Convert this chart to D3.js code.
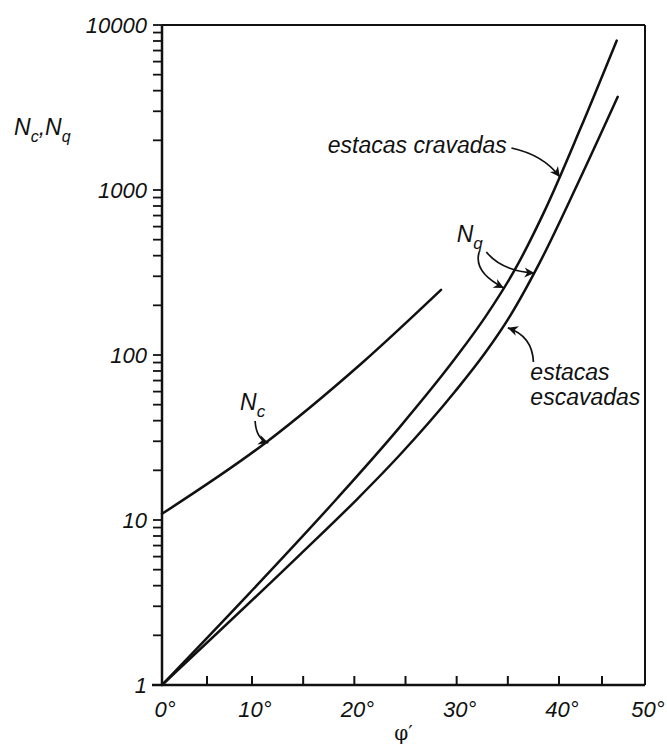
<!DOCTYPE html>
<html>
<head>
<meta charset="utf-8">
<script src="https://cdn.jsdelivr.net/npm/d3@7"></script>
<style>
  body { margin: 0; background: #fff; }
  svg text { font-family: "Liberation Sans", Arial, sans-serif; font-style: italic; fill: #111; }
</style>
</head>
<body>
<svg id="chart" width="667" height="746"></svg>
<script>
// Bearing capacity factors for piles versus friction angle φ' (degrees)
const phiNc = [0, 11.27, 20.72, 28.47];
const valuesNc = [10.9, 29.2, 89.1, 248];

// Nq – driven piles (estacas cravadas)
const phiDriven = [0, 9.78, 18.31, 24.46, 29.84, 32.77, 35.7, 38.63, 42.44, 46.71];
const valuesDriven = [1, 3.63, 13.5, 36.7, 95.1, 169, 330, 755, 2323, 8043];

// Nq – bored piles (estacas escavadas)
const phiBored = [0, 14.69, 20.26, 24.46, 29.84, 32.77, 35.21, 38.14, 42.09, 46.83];
const valuesBored = [1, 6.17, 13.35, 24.85, 60.1, 102.8, 172.1, 365.6, 1068, 3671];

// Axis ticks
const xTickLabels = [0, 10, 20, 30, 40, 50];
const xTickMarks = [5, 10, 15, 20, 25, 30, 35, 40, 45];
const yTickLabels = [1, 10, 100, 1000, 10000];

// Callouts: text anchored in data units (φ', N)
const textNotes = [
  { lines: ["estacas cravadas"], at: [34.9, 1675], anchor: "end" },
  { lines: ["estacas", "escavadas"], at: [37.2, 70.5], anchor: "start" }
];
const factorLabels = [
  { base: "N", sub: "c", at: [8.67, 46.4] },
  { base: "N", sub: "q", at: [30.0, 484] }
];
// Curved leader arrows: start, control point, tip
const leaders = [
  [[10.3, 39.8], [10.4, 31], [11.6, 29.3]],
  [[35.35, 1797], [38.5, 1630], [40.1, 1199]],
  [[32.2, 421], [31.6, 318], [34.6, 255]],
  [[32.9, 421], [34.4, 323], [37.6, 314]],
  [[37.5, 90.7], [37.4, 130], [35.0, 146]]
];

const svg = d3.select("#chart");
const plotLeft = 162, plotRight = 645, plotTop = 25, plotBottom = 685;

// The printed φ' axis is slightly stretched in its middle span
const x = d3.scaleLinear()
  .domain([0, 10, 40, 50])
  .range([plotLeft, 252, 559, plotRight]);
const y = d3.scaleLog()
  .domain([1, 10000])
  .range([plotBottom, plotTop]);

const ink = "#111";

// arrow head
svg.append("defs").append("marker")
  .attr("id", "head")
  .attr("viewBox", "-11 -6 13 12")
  .attr("refX", 0).attr("refY", 0)
  .attr("markerWidth", 13).attr("markerHeight", 12)
  .attr("markerUnits", "userSpaceOnUse")
  .attr("orient", "auto")
  .append("path")
  .attr("d", "M-10,-5 L0,0 L-10,5 L-7,0 Z")
  .attr("fill", ink);

// frame
svg.append("line").attr("x1", x(0)).attr("x2", x(50)).attr("y1", y(10000)).attr("y2", y(10000))
  .attr("stroke", ink).attr("stroke-width", 2);
svg.append("line").attr("x1", x(50)).attr("x2", x(50)).attr("y1", y(10000)).attr("y2", y(1))
  .attr("stroke", ink).attr("stroke-width", 2);
svg.append("line").attr("x1", x(0)).attr("x2", x(0)).attr("y1", y(10000)).attr("y2", y(1))
  .attr("stroke", ink).attr("stroke-width", 2.5);
svg.append("line").attr("x1", x(0) - 10).attr("x2", x(50)).attr("y1", y(1)).attr("y2", y(1))
  .attr("stroke", ink).attr("stroke-width", 2.5);

// log ticks on the left (outside)
const yMinor = [];
[1, 10, 100, 1000].forEach(d => { for (let k = 1; k <= 9; k++) yMinor.push(d * k); });
yMinor.push(10000);
svg.append("g").selectAll("line").data(yMinor).join("line")
  .attr("x1", x(0) - 9).attr("x2", x(0))
  .attr("y1", d => y(d)).attr("y2", d => y(d))
  .attr("stroke", ink).attr("stroke-width", 1.8);

svg.append("g").selectAll("text").data(yTickLabels).join("text")
  .attr("x", x(0) - 15).attr("y", d => y(d)).attr("dy", "0.36em")
  .attr("text-anchor", "end").attr("font-size", 22)
  .text(d => d);

// φ' ticks (inside)
svg.append("g").selectAll("line").data(xTickMarks).join("line")
  .attr("x1", d => x(d)).attr("x2", d => x(d))
  .attr("y1", y(1)).attr("y2", y(1) - 9)
  .attr("stroke", ink).attr("stroke-width", 2);

svg.append("g").selectAll("text").data(xTickLabels).join("text")
  .attr("x", d => x(d) + 3).attr("y", 717)
  .attr("text-anchor", "middle").attr("font-size", 22)
  .text(d => d + "°");

// axis titles
svg.append("text").attr("x", x(25) - 2).attr("y", 740)
  .attr("text-anchor", "middle")
  .style("font-family", "'DejaVu Serif', serif").style("font-style", "normal")
  .attr("font-size", 20).text("φ′");

const yTitle = svg.append("text").attr("x", 14).attr("y", 135).attr("font-size", 23);
yTitle.append("tspan").text("N");
yTitle.append("tspan").attr("font-size", 16).attr("dy", 7).text("c");
yTitle.append("tspan").attr("dy", -7).text(",");
yTitle.append("tspan").text("N");
yTitle.append("tspan").attr("font-size", 16).attr("dy", 7).text("q");

// curves: smooth monotone interpolation in screen space
const line = d3.line()
  .x(d => x(d[0])).y(d => y(d[1]))
  .curve(d3.curveMonotoneX);

const series = [
  d3.zip(phiNc, valuesNc),
  d3.zip(phiDriven, valuesDriven),
  d3.zip(phiBored, valuesBored)
];
svg.append("g").selectAll("path").data(series).join("path")
  .attr("d", line)
  .attr("fill", "none").attr("stroke", ink).attr("stroke-width", 2.5)
  .attr("stroke-linecap", "round");

// callout text
textNotes.forEach(n => {
  const t = svg.append("text")
    .attr("x", x(n.at[0])).attr("y", y(n.at[1]))
    .attr("text-anchor", n.anchor).attr("font-size", 23);
  n.lines.forEach((s, i) => {
    t.append("tspan").attr("x", x(n.at[0])).attr("dy", i ? 25 : 0).text(s);
  });
});

factorLabels.forEach(f => {
  const t = svg.append("text").attr("x", x(f.at[0])).attr("y", y(f.at[1])).attr("font-size", 23);
  t.append("tspan").text(f.base);
  t.append("tspan").attr("font-size", 17).attr("dy", 7).text(f.sub);
});

// leaders
svg.append("g").selectAll("path").data(leaders).join("path")
  .attr("d", d => {
    const p = d.map(q => [x(q[0]), y(q[1])]);
    return `M${p[0][0]},${p[0][1]} Q${p[1][0]},${p[1][1]} ${p[2][0]},${p[2][1]}`;
  })
  .attr("fill", "none").attr("stroke", ink).attr("stroke-width", 1.7)
  .attr("marker-end", "url(#head)");
</script>
</body>
</html>
